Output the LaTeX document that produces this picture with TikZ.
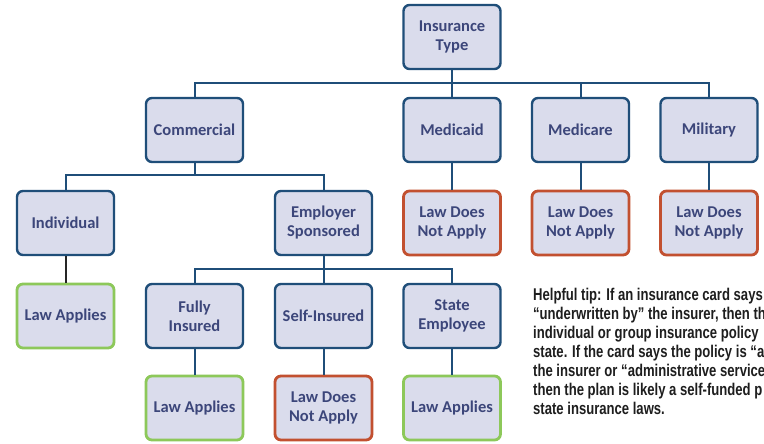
\documentclass[tikz,border=0pt]{standalone}
\usepackage{fontspec}
\setmainfont{Carlito}
\newfontfamily\tipfont[FakeStretch=0.77,BoldFont={Liberation Sans Bold}]{Liberation Sans}
\definecolor{boxfill}{RGB}{218,220,236}
\definecolor{boxline}{RGB}{31,78,121}
\definecolor{boxtext}{RGB}{60,70,122}
\definecolor{noline}{RGB}{194,80,48}
\definecolor{yesline}{RGB}{141,200,90}
\definecolor{tiptext}{RGB}{30,30,30}
\begin{document}
\begin{tikzpicture}[x=1pt,y=-1pt,
  box/.style={draw=boxline, line width=2.4pt, fill=boxfill, rounded corners=6pt,
    minimum width=97pt, minimum height=64pt, inner sep=2pt, align=center,
    text=boxtext, font=\bfseries\fontsize{16.5}{19}\selectfont},
  nobox/.style={box, draw=noline, line width=2.8pt},
  yesbox/.style={box, draw=yesline, line width=2.8pt},
  link/.style={draw=boxline, line width=2pt},
  tip/.style={anchor=base west, inner sep=0pt, text=tiptext,
    font=\tipfont\bfseries\fontsize{17}{19}\selectfont}]
\useasboundingbox (0,0) rectangle (764,444);
\fill[white] (0,0) rectangle (764,444);

% tree nodes
\node[box] (type) at (452,37) {Insurance\\Type};
\node[box] (com) at (194.5,130) {Commercial};
\node[box] (mcaid) at (452,130) {Medicaid};
\node[box] (mcare) at (580.5,130) {Medicare};
\node[box] (mil) at (709,130) {Military};
\node[box] (ind) at (65.5,223) {Individual};
\node[box] (emp) at (323.5,223) {Employer\\Sponsored};
\node[nobox] (mcaidno) at (452,223) {Law Does\\Not Apply};
\node[nobox] (mcareno) at (580.5,223) {Law Does\\Not Apply};
\node[nobox] (milno) at (709,223) {Law Does\\Not Apply};
\node[yesbox] (indyes) at (65.5,316) {Law Applies};
\node[box] (full) at (194.5,316) {Fully\\Insured};
\node[box] (self) at (323.5,316) {Self-Insured};
\node[box] (state) at (452,316) {State\\Employee};
\node[yesbox] (fullyes) at (194.5,408) {Law Applies};
\node[nobox] (selfno) at (323.5,408) {Law Does\\Not Apply};
\node[yesbox] (stateyes) at (452,408) {Law Applies};

% branch connectors
\foreach \c in {com,mcaid,mcare,mil}
  \draw[link] (type.south) -- ++(0,13) -| (\c.north);
\foreach \c in {ind,emp}
  \draw[link] (com.south) -- ++(0,12) -| (\c.north);
\foreach \c in {full,self,state}
  \draw[link] (emp.south) -- ++(0,13) -| (\c.north);
\draw[link] (mcaid) -- (mcaidno);
\draw[link] (mcare) -- (mcareno);
\draw[link] (mil) -- (milno);
\draw[link, draw=black!85] (ind) -- (indyes);
\draw[link] (full) -- (fullyes);
\draw[link] (self) -- (selfno);
\draw[link] (state) -- (stateyes);

% tip text, running off the right edge
\begin{scope}
\clip (520,270) rectangle (764,430);
\node[tip] (t1) at (533,300) {Helpful tip: If an insurance card says};
\node[tip] (t2) at (533,319) {“underwritten by” the insurer, then th};
\node[tip] (t3) at (533,338) {individual or group insurance policy};
\node[tip] (t4) at (533,357) {state. If the card says the policy is “a};
\node[tip] (t5) at (533,376) {the insurer or “administrative service};
\node[tip] (t6) at (533,395) {then the plan is likely a self-funded p};
\node[tip] (t7) at (533,414) {state insurance laws.};
\end{scope}
\end{tikzpicture}
\end{document}
